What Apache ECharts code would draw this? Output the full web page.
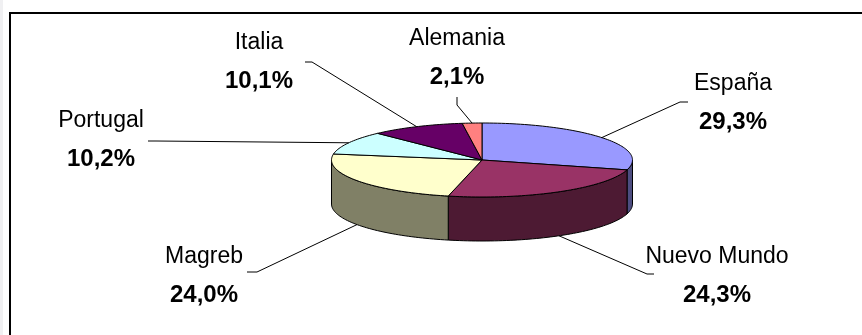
<!DOCTYPE html>
<html><head><meta charset="utf-8">
<script src="https://cdn.jsdelivr.net/npm/echarts@6/dist/echarts.min.js"></script>
<style>html,body{margin:0;padding:0;background:#fff}#c{width:862px;height:335px}</style>
</head><body><div id="c"></div>
<script>
// ---- data ----
const categories = ['España', 'Nuevo Mundo', 'Magreb', 'Portugal', 'Italia', 'Alemania'];
const values = [29.3, 24.3, 24.0, 10.2, 10.1, 2.1];
const percentLabels = ['29,3%', '24,3%', '24,0%', '10,2%', '10,1%', '2,1%'];

// ---- styles / layout ----
const topColors = ['#9999FF', '#993366', '#FFFFCC', '#CCFFFF', '#660066', '#FF8080'];
const sideColors = ['#4D4D80', '#4D1A33', '#808066', '#668080', '#330033', '#804040'];
const PIE = { cx: 482, cy: 160, rx: 150.5, ry: 37, depth: 44 };
// label block centre, leader end point and elbow
const labelLayout = [
  { x: 733, y: 103, end: [688, 102], elbow: [680, 102] },
  { x: 717, y: 276, end: [654, 274], elbow: [647, 274] },
  { x: 204, y: 276, end: [247, 272], elbow: [257, 272] },
  { x: 101, y: 140, end: [148, 141], elbow: [156, 141] },
  { x: 259, y: 62,  end: [305, 62],  elbow: [312, 62] },
  { x: 457, y: 58,  end: [457, 97],  elbow: [457, 105] }
];

const total = values.reduce((a, b) => a + b, 0);
function pt(theta, dy) {
  return [PIE.cx + PIE.rx * Math.sin(theta), PIE.cy - PIE.ry * Math.cos(theta) + (dy || 0)];
}
function arc(a0, a1, dy) {
  const n = Math.max(2, Math.ceil(Math.abs(a1 - a0) / (Math.PI / 120)));
  const pts = [];
  for (let i = 0; i <= n; i++) pts.push(pt(a0 + (a1 - a0) * i / n, dy));
  return pts;
}

function renderItem(params, api) {
  const i = params.dataIndex;
  let cum = 0;
  for (let k = 0; k < i; k++) cum += values[k];
  const v = api.value(0);
  const a0 = cum / total * 2 * Math.PI;
  const a1 = (cum + v) / total * 2 * Math.PI;
  const children = [];
  // side wall (front half only)
  const s = Math.max(a0, Math.PI / 2), e = Math.min(a1, 3 * Math.PI / 2);
  if (e > s) {
    const pts = arc(s, e, 0).concat(arc(e, s, PIE.depth));
    children.push({
      type: 'polygon', shape: { points: pts },
      style: { fill: sideColors[i], stroke: '#000', lineWidth: 1 }
    });
  }
  // top face
  const topPts = [[PIE.cx, PIE.cy]].concat(arc(a0, a1, 0));
  children.push({
    type: 'polygon', shape: { points: topPts },
    style: { fill: topColors[i], stroke: '#000', lineWidth: 1 }
  });
  // leader line from mid-angle edge
  const am = (a0 + a1) / 2;
  const front = am > Math.PI / 2 && am < 3 * Math.PI / 2;
  const start = pt(am, front ? PIE.depth : 0);
  const L = labelLayout[i];
  children.push({
    type: 'polyline', shape: { points: [start, L.elbow, L.end] },
    style: { stroke: '#000', lineWidth: 1, fill: null }
  });
  children.push({
    type: 'text', x: L.x, y: L.y - 19,
    style: { text: categories[i], fill: '#000', font: '23px "Liberation Sans", Arial, sans-serif', align: 'center', verticalAlign: 'middle' }
  });
  children.push({
    type: 'text', x: L.x, y: L.y + 19,
    style: { text: percentLabels[i], fill: '#000', font: 'bold 24px "Liberation Sans", Arial, sans-serif', align: 'center', verticalAlign: 'middle' }
  });
  return { type: 'group', children };
}

const chart = echarts.init(document.getElementById('c'), null, { renderer: 'canvas' });
chart.setOption({
  animation: false,
  backgroundColor: '#fff',
  graphic: [
    { type: 'rect', shape: { x: 0, y: 0, width: 3, height: 335 }, style: { fill: '#F0F0F2' }, z: 0 },
    { type: 'rect', shape: { x: 10, y: 13, width: 900, height: 400 }, style: { fill: null, stroke: '#000', lineWidth: 2 }, z: 0 }
  ],
  series: [{
    type: 'custom',
    coordinateSystem: 'none',
    renderItem: renderItem,
    data: values.map(v => [v])
  }]
});
</script>
</body></html>
